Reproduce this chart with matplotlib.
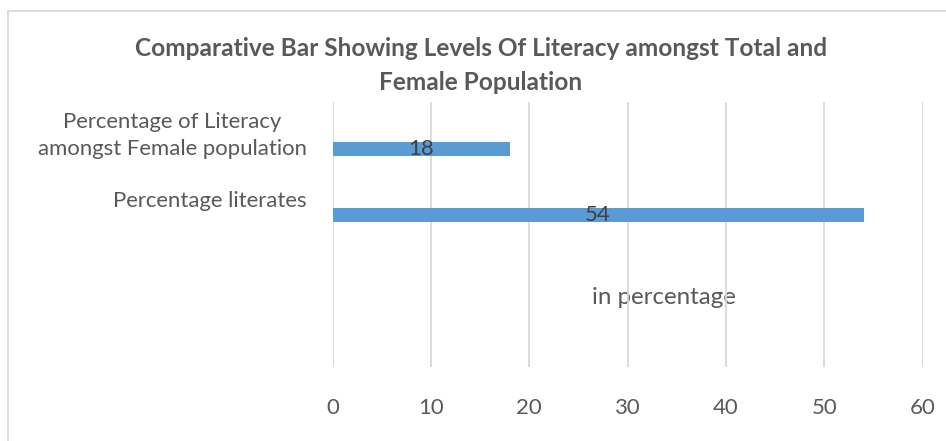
import matplotlib
matplotlib.use("Agg")
import matplotlib.pyplot as plt
from matplotlib.lines import Line2D

categories = ["Percentage literates", "Percentage of Literacy\namongst Female population"]
values = [54, 18]
xticks = [0, 10, 20, 30, 40, 50, 60]
title_lines = ["Comparative Bar Showing Levels Of Literacy amongst Total and", "Female Population"]
axis_note = "in percentage"

W, H, DPI = 946, 441, 100
FONT = "Lato"
TXT = "#595959"
plt.rcParams["font.family"] = [FONT, "DejaVu Sans"]

fig = plt.figure(figsize=(W / DPI, H / DPI), dpi=DPI)
fig.patch.set_facecolor("white")
renderer = fig.canvas.get_renderer()

def fit(t, target_w):
    fs = t.get_fontsize()
    w = t.get_window_extent(renderer).width
    t.set_fontsize(fs * target_w / w)
    return t

# border (top and left visible)
fig.add_artist(Line2D([7.5 / W, 7.5 / W], [0, 1 - 11 / H], color="#D9D9D9", lw=1.3, transform=fig.transFigure))
fig.add_artist(Line2D([7.5 / W, 1], [1 - 11 / H, 1 - 11 / H], color="#D9D9D9", lw=1.3, transform=fig.transFigure))

# category labels (size reference)
cat_centers = {0: 201, 1: 135.5}
cat_texts = []
for yp, c in zip([0, 1], categories):
    t = fig.text(307 / W, 1 - cat_centers[yp] / H, c, ha="right", va="center", multialignment="center",
                 color=TXT, fontsize=12.5, linespacing=1.45)
    cat_texts.append(t)
fit(cat_texts[0], 194)
FS = cat_texts[0].get_fontsize()
cat_texts[1].set_fontsize(FS)

# axes area
x0, x1, ytop, ybot = 332.5, 922.5, 102, 367
ax = fig.add_axes([x0 / W, 1 - ybot / H, (x1 - x0) / W, (ybot - ytop) / H])
ax.set_xlim(0, 60)
ax.patch.set_alpha(0)
ppu = 66.0  # pixels per category unit
ypos = [0, 1]
ax.set_ylim(-(ybot - 215) / ppu, (215 - ytop) / ppu)
for s in ax.spines.values():
    s.set_visible(False)
ax.set_xticks(xticks)
ax.set_yticks([])
ax.tick_params(axis="x", length=0, pad=0, labelbottom=False)
for xt in xticks:
    ax.axvline(xt, color="#D9D9D9", lw=1.3, zorder=1.5)

bars = ax.barh(ypos, values, height=14 / ppu, color="#5B9BD5", zorder=2)

# tick labels
for xt in xticks:
    t = ax.text(xt, -(408 - 215) / ppu, str(xt), ha="center", va="center", color=TXT, fontsize=FS)
    t.set_clip_on(False)

# data labels
for yp, v in zip(ypos, values):
    ax.text(v / 2, yp, str(v), ha="center", va="center", color="#404040", fontsize=FS, zorder=4)

# note text (behind gridlines)
note = ax.text(0.5, 0.5, axis_note, transform=fig.transFigure, ha="center", va="center", color=TXT,
               fontsize=12.5, zorder=1)
note.set_position((664 / W, 1 - 298 / H))
fit(note, 145)

# title
t1 = fig.text(481 / W, 1 - 48 / H, title_lines[0], ha="center", va="center", color=TXT,
              fontsize=14, fontweight="bold")
fit(t1, 696)
t2 = fig.text(481 / W, 1 - 82 / H, title_lines[1], ha="center", va="center", color=TXT,
              fontsize=t1.get_fontsize(), fontweight="bold")

fig.savefig("out.png", dpi=DPI)
